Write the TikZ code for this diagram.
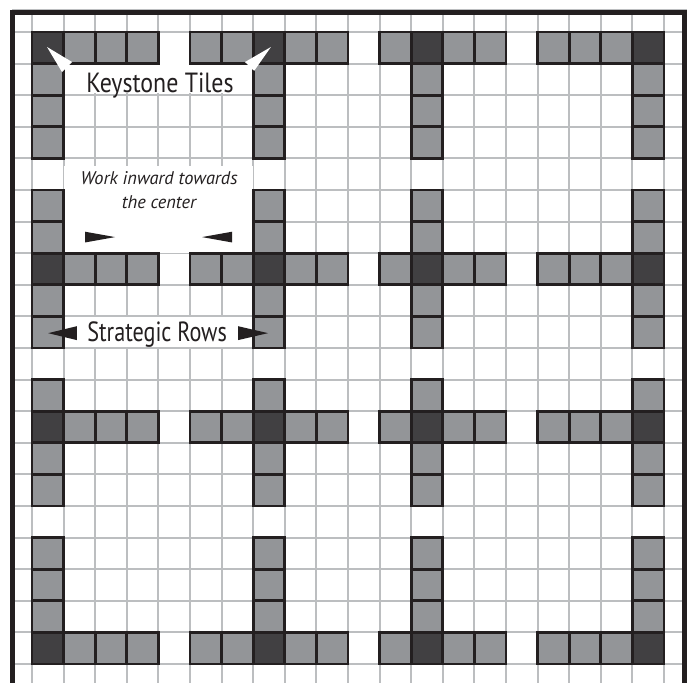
\documentclass[tikz,border=0pt]{standalone}
\usepackage{fontspec}
\newfontfamily\labelfont{PT Sans}
\usetikzlibrary{positioning}
\definecolor{tileGray}{RGB}{147,149,152}
\definecolor{tileDark}{RGB}{65,64,66}
\definecolor{tileEdge}{RGB}{35,31,32}
\definecolor{gridGray}{RGB}{188,190,192}
\begin{document}
\begin{tikzpicture}[x=1cm,y=1cm,
  gridline/.style={draw=gridGray,line width=1.9pt},
  tile/.style={draw=tileEdge,fill=tileGray,line width=2.4pt},
  keytile/.style={draw=tileEdge,fill=tileDark,line width=2.4pt},
  frame/.style={draw=tileEdge,line width=4.5pt},
  caption/.style={font=\labelfont\fontsize{25}{29}\selectfont,text=tileEdge,inner sep=0pt,anchor=base},
  note/.style={font=\labelfont\itshape\fontsize{16.5}{21.5}\selectfont,text=tileEdge,inner sep=0pt,align=center},
  pointer/.style={fill=tileEdge},
  whitepointer/.style={fill=white}]
\useasboundingbox (-1.013,-0.601) rectangle (20.886,21.013);
% light grid
\foreach \x in {0,...,20}
  \draw[gridline] (\x,-0.62) -- (\x,20.62);
\foreach \y in {0,...,20}
  \draw[gridline] (-0.62,\y) -- (20.65,\y);
\draw[gridline,line width=1pt] (-0.62,20.72) -- (20.72,20.72);
% white ground behind the labels
\fill[white] (1,18.06) rectangle (7,19.05);
\fill[white] (1,13.02) rectangle (7,15.75);
\fill[white] (1,10.03) rectangle (7,10.97);
% tiles: keystone column/lowest/highest cell of its run
\foreach \kc/\lc/\hc in {0/0/3,7/5/9,12/11/14,19/16/19}
  \foreach \kr/\lr/\hr in {0/0/3,7/5/9,12/11/14,19/16/19} {
    \foreach \c in {\lc,...,\hc}
      \draw[tile] (\c,19-\kr) rectangle ++(1,1);
    \foreach \r in {\lr,...,\hr}
      \draw[tile] (\kc,19-\r) rectangle ++(1,1);
    \draw[keytile] (\kc,19-\kr) rectangle ++(1,1);
  }
% frame
\draw[frame] (-0.617,-0.62) -- (-0.617,20.617) -- (20.65,20.617) -- (20.65,-0.62);
% labels
\node[caption] (keystone) at (4.05,18.07) {\scalebox{0.86}[1]{Keystone Tiles}};
\node[note] (inward) at (4.02,15.0) {Work inward towards\\the center};
\node[caption] (strategic) at (3.96,10.19) {\scalebox{0.8}[1]{Strategic Rows}};
% pointers
\fill[whitepointer] (0.475,19.525) -- (1.27,19.05) -- (0.95,18.73) -- cycle;
\fill[whitepointer] (7.56,19.525) -- (6.74,19.05) -- (7.03,18.77) -- cycle;
\fill[pointer] (1.68,13.34) -- (2.63,13.51) -- (1.68,13.68) -- cycle;
\fill[pointer] (6.33,13.34) -- (5.38,13.51) -- (6.33,13.68) -- cycle;
\fill[pointer] (1.42,10.25) -- (0.51,10.47) -- (1.42,10.69) -- cycle;
\fill[pointer] (6.52,10.25) -- (7.47,10.47) -- (6.52,10.69) -- cycle;
\end{tikzpicture}
\end{document}
